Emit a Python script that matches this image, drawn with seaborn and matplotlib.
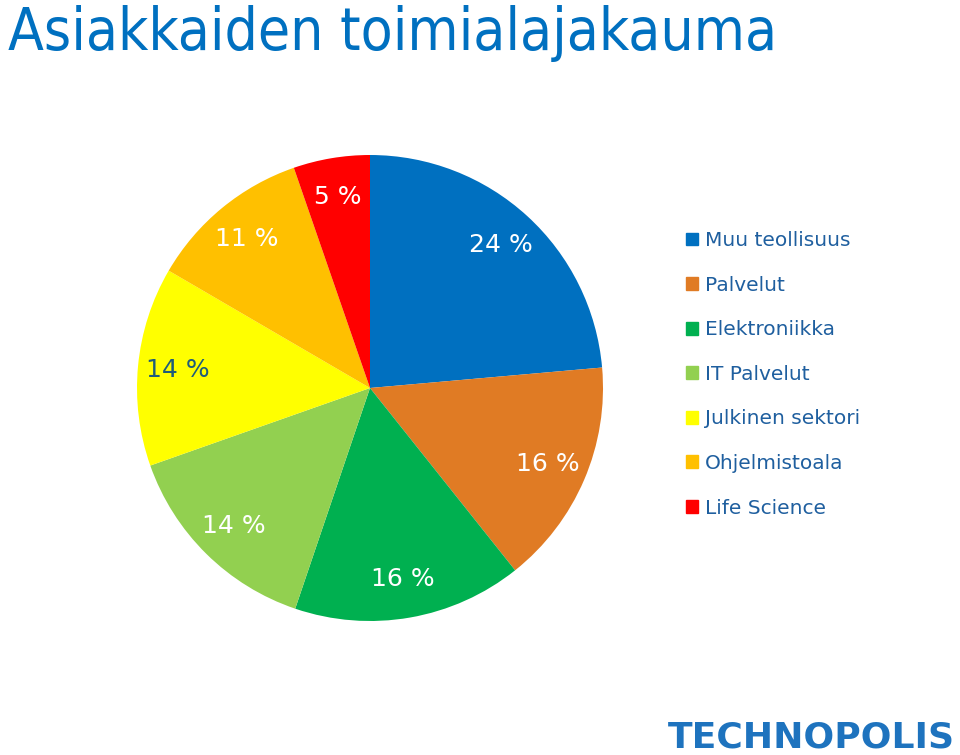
import matplotlib
matplotlib.use("Agg")
import matplotlib.pyplot as plt
import matplotlib.patches as mpatches
import seaborn as sns

# %% Data
categories = ["Muu teollisuus", "Palvelut", "Elektroniikka", "IT Palvelut",
              "Julkinen sektori", "Ohjelmistoala", "Life Science"]
shares = [23.6, 15.7, 15.9, 14.4, 13.8, 11.3, 5.3]
colors = ["#0070C0", "#E07B24", "#00B050", "#92D050", "#FFFF00", "#FFC000", "#FF0000"]
label_colors = ["white", "white", "white", "white", "#1F5C7A", "white", "white"]

sns.set_theme(style="white")
plt.rcParams['font.family'] = ['DejaVu Sans']

W, H = 960, 755
fig = plt.figure(figsize=(W / 100, H / 100), dpi=100)
fig.patch.set_facecolor("white")

# pie axes placed in pixels: center (370, 388), radius 233
cx, cy, r = 370, 388, 233
ax = fig.add_axes([(cx - r) / W, (H - cy - r) / H, 2 * r / W, 2 * r / H])
wedges, texts, autotexts = ax.pie(
    shares, colors=colors, startangle=90, counterclock=False,
    autopct=lambda p: "{:.0f} %".format(p), pctdistance=0.83,
    radius=1.0, wedgeprops=dict(linewidth=0),
    textprops=dict(fontsize=18))
for t, c in zip(autotexts, label_colors):
    t.set_color(c)
ax.set_xlim(-1, 1)
ax.set_ylim(-1, 1)
ax.set_aspect("equal")
ax.axis("off")

# title
fig.text(8 / W, 1 - 33 / H, "Asiakkaiden toimialajakauma", color="#0070C0",
         fontsize=42, va="center", ha="left", fontstretch="condensed")

# legend
handles = [mpatches.Patch(color=c, label=l) for c, l in zip(colors, categories)]
leg = fig.legend(handles=handles, loc="upper left",
                 bbox_to_anchor=(678 / W, 1 - 223 / H), frameon=False,
                 fontsize=14.5, handlelength=0.6, handleheight=0.6,
                 handletextpad=0.35, labelspacing=1.27, borderaxespad=0)
for t in leg.get_texts():
    t.set_color("#1F5F9F")

# logo text
fig.text(955 / W, 1 - 737 / H, "TECHNOPOLIS", color="#1E73BE", fontsize=26,
         fontweight="heavy", ha="right", va="center")

plt.savefig("out.png", dpi=100)
plt.close()
